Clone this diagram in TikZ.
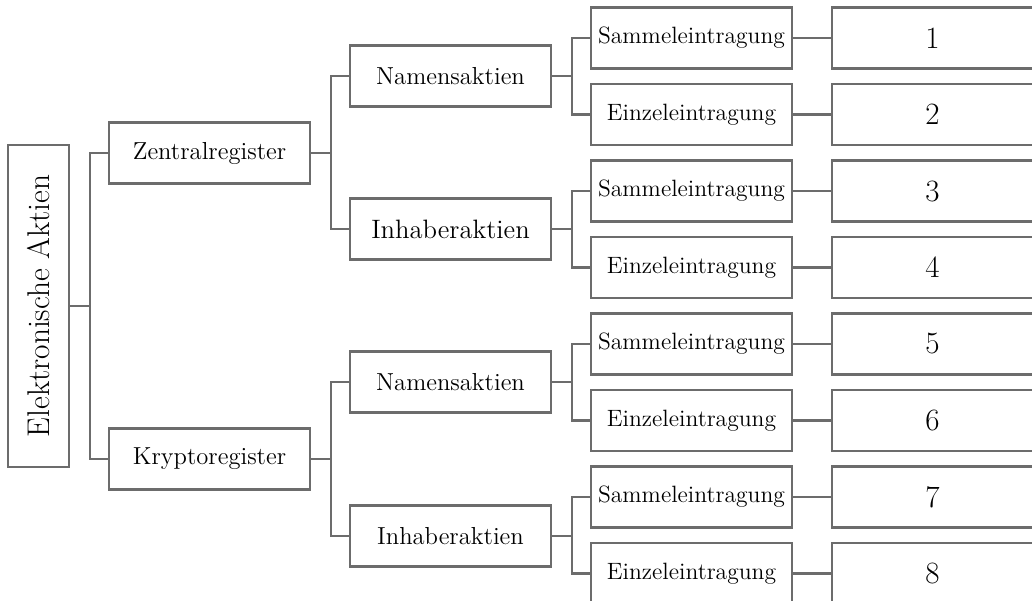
\documentclass[tikz,border=0pt]{standalone}
\usepackage{fontspec}
\usepackage{tikz}
\usetikzlibrary{positioning,calc}
\definecolor{linegray}{RGB}{108,108,108}

\begin{document}
\begin{tikzpicture}[x=0.5pt, y=-0.5pt,
  box/.style={draw=linegray, line width=1.2pt, minimum width=100.5pt, minimum height=30.5pt, inner sep=0pt, font=\fontsize{12.3}{14}\selectfont},
  leaf/.style={box, font=\fontsize{11.8}{14}\selectfont},
  num/.style={box, font=\fontsize{15.5}{18}\selectfont},
  link/.style={draw=linegray, line width=1.2pt}]
\useasboundingbox (0,0) rectangle (1032,600);
\node[box, minimum width=161pt, minimum height=30.5pt, rotate=90, font=\fontsize{15.7}{18}\selectfont] (root) at (38.5,306) {Elektronische Aktien};
\node[box] (zr) at (209.5,153) {Zentralregister};
\node[box] (kr) at (209.5,459) {Kryptoregister};
\node[box] (na1) at (450.5,76) {Namensaktien};
\node[box, font=\fontsize{13.3}{16}\selectfont] (ia1) at (450.5,229) {Inhaberaktien};
\node[box] (na2) at (450.5,382) {Namensaktien};
\node[box] (ia2) at (450.5,536) {Inhaberaktien};
\foreach \i in {1,...,8} {\pgfmathsetmacro{\yy}{38+76.5*(\i-1)}\pgfmathtruncatemacro{\odd}{mod(\i,2)}
  \ifnum\odd=1 \def\lbl{Sammeleintragung}\else\def\lbl{Einzeleintragung}\fi
  \node[leaf] (le\i) at (691.5,\yy) {\lbl};
  \node[num] (nr\i) at (932.5,\yy) {\i};
  \draw[link] (le\i) -- (nr\i);}
\foreach \c in {zr,kr} {\draw[link] (root.south) -- ++(20,0) |- (\c.west);}
\foreach \p/\c in {zr/na1,zr/ia1,kr/na2,kr/ia2} {\draw[link] (\p.east) -- ++(20,0) |- (\c.west);}
\foreach \p/\a/\b in {na1/1/2,ia1/3/4,na2/5/6,ia2/7/8} {\draw[link] (\p.east) -- ++(20,0) |- (le\a.west); \draw[link] (\p.east) -- ++(20,0) |- (le\b.west);}
\end{tikzpicture}
\end{document}
